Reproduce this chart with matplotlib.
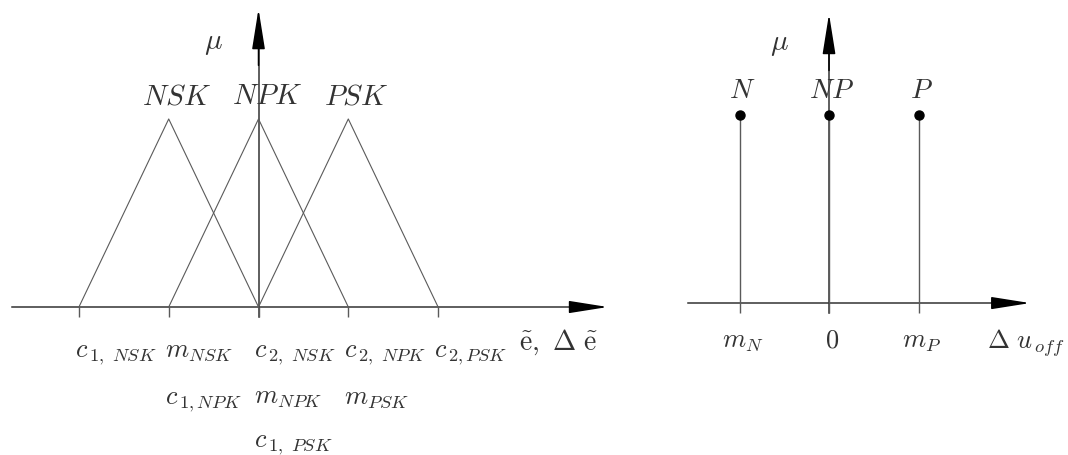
import numpy as np
import matplotlib
matplotlib.use("Agg")
import matplotlib.pyplot as plt
from matplotlib.transforms import ScaledTranslation

plt.rcParams['mathtext.fontset'] = 'cm'

# left panel: triangular membership functions (c1, m, c2)
sets_left = ['NSK', 'NPK', 'PSK']
c1_left = [-2, -1, 0]
m_left = [-1, 0, 1]
c2_left = [0, 1, 2]
peak = 1.0

# tick labels under the left axis, three rows
row1_pos = [-2, -1, 0, 1, 2]
row1_lab = [r'$c_{\,1,\ NSK}$', r'$m_{NSK}$', r'$c_{\,2,\ NSK}$',
            r'$c_{\,2,\ NPK}$', r'$c_{\,2,PSK}$']
row2_pos = [-1, 0, 1]
row2_lab = [r'$c_{\,1,NPK}$', r'$m_{NPK}$', r'$m_{PSK}$']
row3_pos = [0]
row3_lab = [r'$c_{\,1,\ PSK}$']

# right panel: singletons
sets_right = ['N', 'NP', 'P']
m_right = [-1, 0, 1]
mu_right = [1, 1, 1]
right_lab = [r'$m_{N}$', r'$0$', r'$m_{P}$']

axis_col = '#333333'
line_col = '#5a5a5a'
txt_col = '#333333'

fig = plt.figure(figsize=(10.68, 4.56), dpi=100)
ax1 = fig.add_axes([0, 0, 650 / 1068, 1])
ax2 = fig.add_axes([650 / 1068, 0, 418 / 1068, 1])

ax1.set_xlim(-2.879, 4.360)
ax1.set_ylim(-0.787, 1.638)
ax2.set_xlim(-2.0, 2.670)
ax2.set_ylim(-0.806, 1.613)
for ax in (ax1, ax2):
    ax.axis('off')

def draw_axes(ax, x0, x1, y1, ticks, tick_len):
    # x axis with arrow head
    ax.plot([x0, x1 - 0.2], [0, 0], color=axis_col, lw=1.1)
    ax.annotate('', xy=(x1, 0), xytext=(x1 - 0.4, 0),
                arrowprops=dict(arrowstyle='-|>,head_length=2.4,head_width=0.38',
                                mutation_scale=10, color='black', lw=1.1,
                                shrinkA=0, shrinkB=0))
    # mu axis with arrow head
    ax.plot([0, 0], [-tick_len, y1 - 0.1], color=axis_col, lw=1.1)
    ax.annotate('', xy=(0, y1), xytext=(0, y1 - 0.3),
                arrowprops=dict(arrowstyle='-|>,head_length=2.5,head_width=0.4',
                                mutation_scale=10, color='black', lw=1.1,
                                shrinkA=0, shrinkB=0))
    ax.vlines(ticks, -tick_len, 0, color=line_col, lw=1.0)

# ---- left panel
draw_axes(ax1, -2.745, 3.89, 1.585, row1_pos, 0.053)
for name, a, m, b in zip(sets_left, c1_left, m_left, c2_left):
    ax1.plot([a, m, b], [0, peak, 0], color=line_col, lw=0.8)
    ax1.annotate('$' + name + '$', xy=(m, peak), xytext=(6, 7),
                 textcoords='offset points', ha='center', va='bottom',
                 fontsize=21, color=txt_col)

for pos_list, lab_list, dy in [(row1_pos, row1_lab, -35),
                               (row2_pos, row2_lab, -69),
                               (row3_pos, row3_lab, -100)]:
    for p, lab in zip(pos_list, lab_list):
        ax1.annotate(lab, xy=(p, 0), xytext=(-3, dy), textcoords='offset points',
                     ha='left', va='baseline', fontsize=19, color=txt_col)

ax1.text(-0.5, 1.41, r'$\mu$', ha='center', va='center', fontsize=21, color=txt_col)
ax1.text(2.9, 0, r'$\tilde{\mathrm{e}},\ \Delta\ \tilde{\mathrm{e}}$',
         ha='left', va='baseline', fontsize=20, color=txt_col,
         transform=ax1.transData + ScaledTranslation(0, -42 / 100, fig.dpi_scale_trans))

# ---- right panel
draw_axes(ax2, -1.575, 2.246, 1.534, m_right, 0.055)
ax2.vlines(m_right, 0, mu_right, color=line_col, lw=1.0)
ax2.plot(m_right, mu_right, 'o', color='black', ms=6.5)
for name, m, mu in zip(sets_right, m_right, mu_right):
    ax2.annotate('$' + name + '$', xy=(m, mu), xytext=(2, 8),
                 textcoords='offset points', ha='center', va='bottom',
                 fontsize=20, color=txt_col)
for m, lab in zip(m_right, right_lab):
    ax2.annotate(lab, xy=(m, 0), xytext=(2, -31), textcoords='offset points',
                 ha='center', va='baseline', fontsize=19, color=txt_col)
ax2.text(-0.55, 1.377, r'$\mu$', ha='center', va='center', fontsize=21, color=txt_col)
ax2.annotate(r'$\Delta\ u_{\,off}$', xy=(1.77, 0), xytext=(0, -32),
             textcoords='offset points', ha='left', va='baseline',
             fontsize=19, color=txt_col)

fig.savefig('out.png', dpi=100)
